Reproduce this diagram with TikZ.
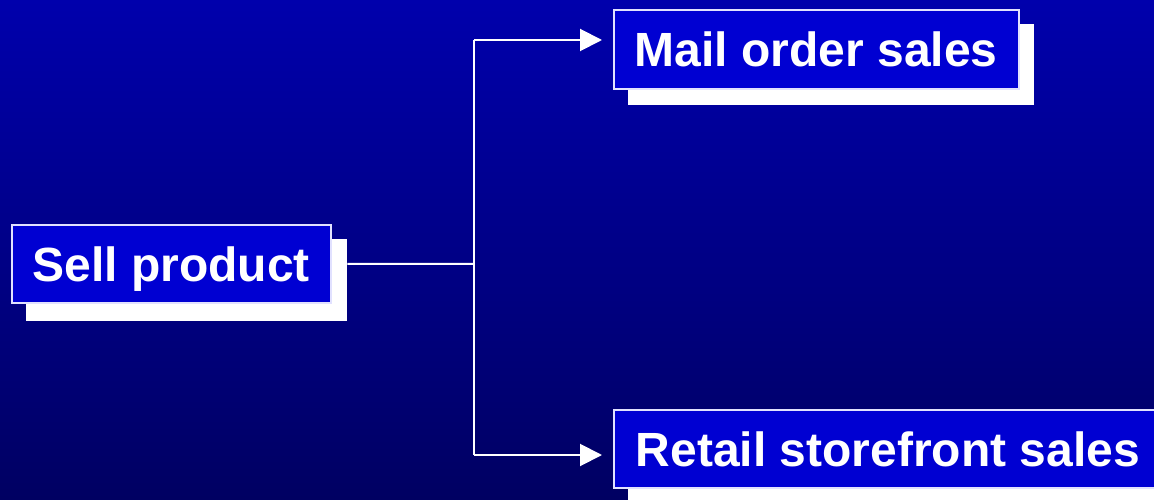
\documentclass[tikz,border=0pt]{standalone}
\usepackage{fontspec}
\setmainfont{Liberation Sans}
\usetikzlibrary{arrows.meta}
\definecolor{bgtop}{RGB}{0,0,172}
\definecolor{bgbot}{RGB}{0,0,98}
\definecolor{boxfill}{RGB}{0,0,210}
\definecolor{boxline}{RGB}{225,225,255}
\begin{document}
\begin{tikzpicture}[x=1pt,y=1pt,
  box/.style={draw=boxline, line width=1.6pt, fill=boxfill, text=white,
    font=\fontsize{48}{56}\selectfont\bfseries, inner sep=0pt, anchor=north west,
    text height=34.5pt, text depth=0pt},
  shadowbox/.style={fill=white, draw=none, inner sep=0pt, anchor=north west},
  conn/.style={draw=white, line width=2pt},
  arr/.style={conn, -{Triangle[length=22pt,width=22pt]}, shorten >=11pt}]
\useasboundingbox (0,0) rectangle (1154,499);
\shade[top color=bgtop,bottom color=bgbot] (0,0) rectangle (1154,499);
% shadows
\node[shadowbox, minimum width=321pt, minimum height=82pt] (sellsh) at (26,260) {};
\node[shadowbox, minimum width=406pt, minimum height=81pt] (mailsh) at (628,475) {};
\node[shadowbox, minimum width=540pt, minimum height=90pt] (retailsh) at (628,75) {};
% boxes
\node[box, minimum width=319pt, minimum height=78pt] (sell) at (11,275) {Sell product};
\node[box, minimum width=405pt, minimum height=79pt] (mail) at (613,490) {Mail order sales};
\node[box, minimum width=548pt, minimum height=78pt] (retail) at (613,90) {Retail storefront sales};
% connectors
\coordinate (j) at (474,235);
\coordinate (jt) at (474,459);
\coordinate (jb) at (474,44);
\draw[conn] (sell.east -| sellsh.east) -- (j);
\draw[conn] (jt) -- (jb);
\draw[arr] (jt) -- (mail.west |- jt);
\draw[arr] (jb) -- (retail.west |- jb);
\end{tikzpicture}
\end{document}
